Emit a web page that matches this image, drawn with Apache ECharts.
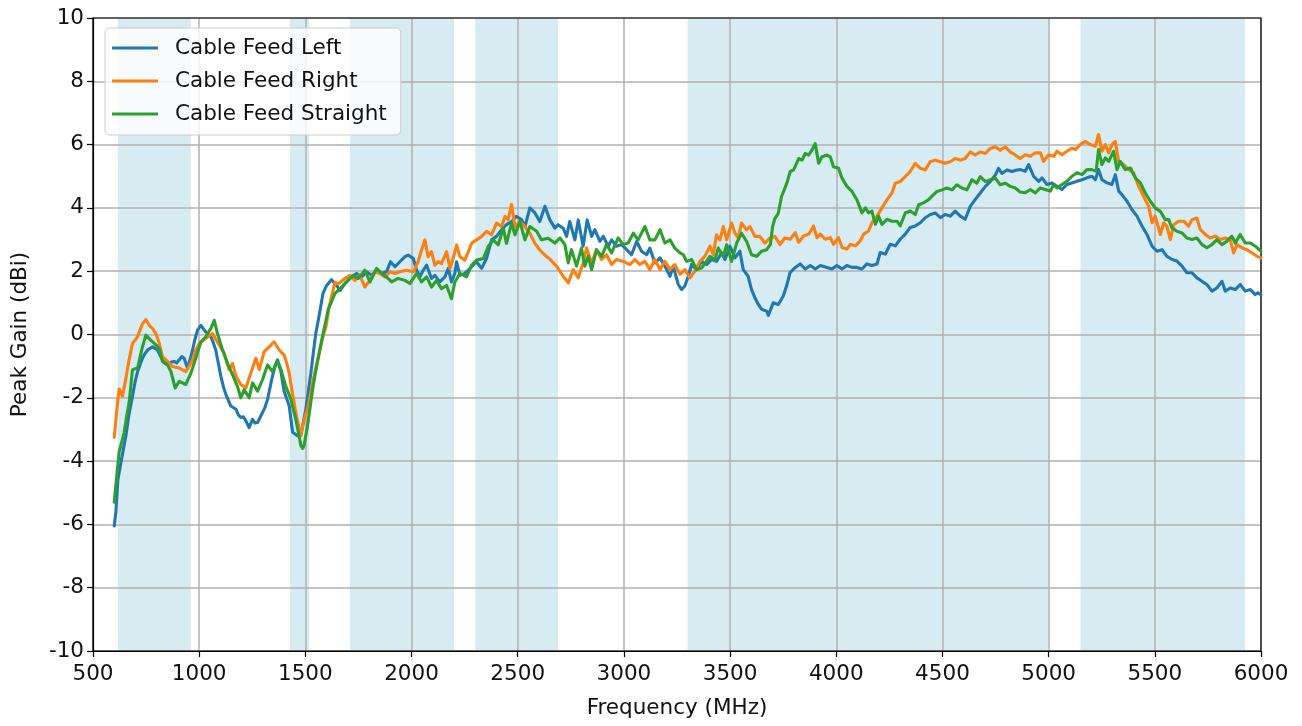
<!DOCTYPE html>
<html><head><meta charset="utf-8">
<script src="https://cdn.jsdelivr.net/npm/echarts@6/dist/echarts.min.js"></script>
<style>html,body{margin:0;padding:0;background:#fff}#c{width:1302px;height:726px}</style>
</head><body><div id="c"></div>
<script>
const seriesNames = ['Cable Feed Left', 'Cable Feed Right', 'Cable Feed Straight'];
const seriesColors = ['#1f77b4', '#ff7f0e', '#2ca02c'];
const xTicks = {min: 500, max: 6000, step: 500};
const yTicks = {min: -10, max: 10, step: 2};
const bandStart = [617, 1427, 1710, 2300, 3300, 5150];
const bandEnd   = [960, 1518, 2200, 2690, 5000, 5925];

// [frequency MHz, peak gain dBi]
const feedLeft = [
[600,-6.05],[608,-5.6],[617,-4.6],[630,-4.1],[641,-3.7],[655,-3.2],[670,-2.5],[686,-1.95],[698,-1.5],[710,-1.17],[722,-0.95],[733,-0.75],[745,-0.6],[757,-0.49],[780,-0.39],[804,-0.49],[815,-0.65],[827,-0.8],[840,-0.9],[851,-0.96],[866,-0.88],[882,-0.85],[894,-0.9],[906,-0.8],[918,-0.7],[929,-0.75],[945,-1.06],[957,-0.8],[969,-0.49],[980,-0.15],[992,0.14],[1008,0.29],[1031,0.08],[1055,-0.07],[1066,-0.25],[1078,-0.49],[1090,-0.9],[1102,-1.32],[1114,-1.65],[1126,-1.9],[1149,-2.26],[1173,-2.36],[1185,-2.55],[1196,-2.62],[1208,-2.6],[1220,-2.73],[1235,-2.94],[1251,-2.68],[1263,-2.8],[1275,-2.78],[1298,-2.47],[1310,-2.3],[1322,-2.05],[1333,-1.7],[1345,-1.32],[1357,-1.0],[1369,-0.8],[1385,-1.17],[1400,-1.79],[1424,-2.26],[1440,-3.09],[1463,-3.2],[1471,-3.25],[1479,-3.15],[1490,-2.8],[1502,-2.36],[1514,-1.8],[1526,-1.22],[1537,-0.6],[1549,0.03],[1565,0.6],[1583,1.3],[1600,1.55],[1623,1.73],[1647,1.55],[1663,1.39],[1686,1.61],[1717,1.82],[1741,1.93],[1765,1.82],[1788,1.98],[1812,1.87],[1835,2.03],[1859,1.93],[1882,1.98],[1901,2.3],[1922,2.14],[1945,2.3],[1969,2.46],[1984,2.51],[2008,2.4],[2024,2.03],[2039,1.82],[2055,2.03],[2071,2.19],[2094,1.77],[2110,1.87],[2133,1.66],[2157,1.82],[2173,2.09],[2188,1.66],[2204,1.93],[2212,2.3],[2228,1.87],[2251,1.93],[2283,2.14],[2306,2.3],[2330,2.09],[2353,2.4],[2377,2.99],[2400,3.1],[2424,3.31],[2447,3.47],[2471,3.57],[2494,3.73],[2518,3.63],[2534,3.41],[2557,4.0],[2581,3.84],[2604,3.57],[2628,4.05],[2651,3.63],[2675,3.36],[2690,3.47],[2714,3.36],[2730,3.1],[2745,3.57],[2769,2.99],[2785,3.62],[2808,2.79],[2827,3.62],[2848,3.1],[2863,3.31],[2887,2.94],[2903,3.1],[2926,2.79],[2942,2.99],[2965,2.79],[2989,2.84],[3013,2.68],[3036,2.52],[3060,2.94],[3083,2.63],[3107,2.52],[3122,2.73],[3146,2.26],[3170,2.42],[3193,2.16],[3217,1.84],[3232,2.16],[3256,1.58],[3272,1.42],[3287,1.53],[3303,1.84],[3319,2.21],[3342,2.05],[3366,2.31],[3389,2.21],[3413,2.37],[3436,2.31],[3460,2.58],[3476,2.37],[3499,2.79],[3523,2.42],[3546,2.63],[3562,2.05],[3585,1.84],[3601,1.42],[3617,1.16],[3633,0.95],[3648,0.8],[3672,0.74],[3680,0.6],[3688,0.64],[3703,1.0],[3727,0.95],[3750,1.21],[3766,1.53],[3782,1.95],[3807,2.12],[3830,2.23],[3854,2.07],[3878,2.18],[3901,2.07],[3925,2.18],[3956,2.12],[3980,2.07],[4003,2.18],[4027,2.07],[4050,2.18],[4074,2.12],[4097,2.12],[4121,2.07],[4144,2.23],[4168,2.18],[4192,2.23],[4207,2.59],[4231,2.54],[4254,2.85],[4278,2.8],[4301,3.01],[4325,3.17],[4348,3.38],[4372,3.43],[4396,3.53],[4419,3.69],[4443,3.79],[4466,3.84],[4490,3.69],[4513,3.79],[4537,3.74],[4560,3.9],[4584,3.74],[4607,3.64],[4631,4.05],[4654,4.26],[4678,4.47],[4702,4.68],[4725,4.83],[4749,5.04],[4764,5.25],[4780,5.09],[4804,5.2],[4827,5.15],[4851,5.2],[4867,5.21],[4890,5.16],[4906,5.37],[4929,5.0],[4953,4.84],[4969,4.95],[4992,4.74],[5016,4.79],[5039,4.68],[5063,4.58],[5086,4.74],[5110,4.79],[5133,4.84],[5157,4.89],[5180,4.95],[5204,5.0],[5220,4.89],[5235,5.21],[5251,4.89],[5275,4.79],[5298,4.74],[5314,5.05],[5330,4.53],[5345,4.42],[5369,4.21],[5392,3.95],[5416,3.74],[5440,3.42],[5463,3.16],[5487,2.79],[5510,2.63],[5534,2.68],[5557,2.47],[5581,2.37],[5604,2.32],[5628,2.16],[5651,1.95],[5675,1.95],[5698,1.79],[5722,1.68],[5745,1.58],[5769,1.37],[5792,1.47],[5816,1.68],[5832,1.37],[5855,1.47],[5879,1.42],[5902,1.58],[5926,1.37],[5950,1.42],[5973,1.26],[5985,1.32],[6000,1.25]
];

const feedRight = [
[600,-3.25],[612,-2.4],[623,-1.72],[639,-1.95],[655,-1.38],[670,-0.8],[686,-0.28],[710,-0.07],[722,0.15],[733,0.34],[749,0.47],[765,0.29],[780,0.19],[796,0.03],[812,-0.28],[827,-0.7],[851,-0.85],[874,-1.01],[906,-1.06],[937,-1.17],[953,-1.0],[969,-0.8],[984,-0.5],[1000,-0.28],[1031,-0.13],[1063,0.03],[1078,-0.15],[1094,-0.33],[1118,-0.59],[1141,-1.11],[1157,-0.91],[1173,-1.32],[1196,-1.58],[1220,-1.69],[1243,-1.22],[1267,-0.75],[1283,-1.11],[1306,-0.54],[1330,-0.39],[1353,-0.23],[1377,-0.49],[1400,-0.65],[1412,-0.9],[1424,-1.22],[1435,-1.7],[1447,-2.16],[1459,-2.6],[1471,-2.99],[1479,-3.2],[1487,-2.89],[1498,-2.6],[1510,-2.36],[1522,-1.95],[1534,-1.53],[1549,-1.05],[1565,-0.59],[1581,-0.1],[1597,0.24],[1610,0.8],[1623,1.2],[1640,1.65],[1655,1.6],[1686,1.77],[1710,1.87],[1733,1.71],[1757,1.87],[1780,1.5],[1804,1.71],[1827,1.98],[1851,1.93],[1874,1.82],[1898,1.98],[1922,1.93],[1945,1.98],[1976,2.03],[2008,1.98],[2031,2.3],[2047,2.67],[2063,2.99],[2078,2.46],[2094,2.62],[2110,2.19],[2126,2.3],[2141,2.24],[2165,2.62],[2181,2.09],[2196,2.4],[2212,2.83],[2228,2.46],[2251,2.35],[2283,2.88],[2306,2.99],[2330,3.1],[2353,3.26],[2377,3.15],[2400,3.52],[2424,3.41],[2440,3.73],[2455,3.63],[2471,4.11],[2487,3.41],[2510,3.57],[2534,3.41],[2557,3.2],[2581,2.88],[2604,2.67],[2628,2.51],[2651,2.38],[2683,2.16],[2714,1.84],[2738,1.63],[2761,2.05],[2785,1.79],[2808,2.26],[2824,2.73],[2848,2.26],[2871,2.68],[2895,2.37],[2918,2.52],[2942,2.21],[2965,2.37],[2997,2.31],[3028,2.21],[3052,2.37],[3075,2.21],[3099,2.31],[3122,2.05],[3146,2.37],[3170,2.05],[3193,2.31],[3217,2.05],[3240,2.21],[3264,1.9],[3287,2.05],[3311,1.79],[3334,2.0],[3358,2.31],[3381,2.47],[3405,2.79],[3421,2.52],[3436,3.15],[3452,2.99],[3468,3.41],[3484,2.99],[3507,3.52],[3523,3.2],[3538,3.05],[3554,3.52],[3578,3.31],[3593,3.41],[3617,3.1],[3640,3.1],[3664,2.89],[3688,3.05],[3711,3.1],[3735,2.84],[3758,3.05],[3783,3.01],[3807,3.22],[3823,2.91],[3846,3.11],[3870,3.17],[3893,3.43],[3909,3.06],[3925,3.17],[3948,3.01],[3972,3.06],[3987,2.85],[4011,3.06],[4027,2.75],[4050,2.7],[4066,2.85],[4090,2.8],[4113,2.96],[4129,3.17],[4152,3.27],[4168,3.53],[4192,3.74],[4215,4.0],[4239,4.26],[4262,4.47],[4278,4.78],[4301,4.83],[4325,4.99],[4348,5.15],[4372,5.41],[4396,5.25],[4419,5.2],[4443,5.46],[4466,5.51],[4490,5.46],[4513,5.41],[4537,5.46],[4560,5.56],[4584,5.51],[4607,5.56],[4631,5.77],[4654,5.67],[4678,5.77],[4702,5.72],[4725,5.88],[4749,5.93],[4772,5.82],[4796,5.93],[4819,5.77],[4843,5.67],[4866,5.56],[4890,5.68],[4914,5.63],[4937,5.74],[4961,5.74],[4976,5.47],[5000,5.68],[5024,5.63],[5039,5.79],[5063,5.68],[5086,5.79],[5110,5.89],[5126,5.84],[5149,6.0],[5173,6.1],[5196,6.0],[5220,5.95],[5235,6.32],[5251,5.79],[5267,6.0],[5283,5.74],[5298,6.0],[5314,6.1],[5330,5.47],[5353,5.37],[5377,5.21],[5400,5.11],[5424,4.68],[5447,4.37],[5471,4.05],[5487,3.53],[5502,3.74],[5526,3.16],[5542,3.53],[5557,3.42],[5573,3.0],[5589,3.47],[5612,3.58],[5636,3.58],[5659,3.42],[5675,3.63],[5698,3.68],[5714,3.32],[5738,3.16],[5761,3.05],[5785,3.11],[5808,3.0],[5832,3.05],[5855,3.0],[5871,2.58],[5887,2.84],[5910,2.74],[5934,2.68],[5957,2.58],[5981,2.47],[6000,2.42]
];

const feedStraight = [
[600,-5.3],[610,-4.6],[623,-3.72],[647,-3.09],[658,-2.6],[670,-2.16],[686,-1.11],[710,-1.06],[722,-0.7],[733,-0.39],[749,-0.02],[772,-0.18],[796,-0.33],[812,-0.44],[827,-0.85],[851,-0.96],[867,-1.17],[887,-1.69],[906,-1.48],[937,-1.58],[961,-1.22],[984,-0.75],[1008,-0.23],[1031,-0.07],[1055,0.19],[1071,0.45],[1086,0.03],[1110,-0.49],[1133,-0.91],[1157,-1.27],[1180,-1.64],[1196,-2.0],[1212,-1.74],[1235,-2.0],[1251,-1.53],[1275,-1.79],[1298,-1.43],[1322,-0.96],[1345,-1.17],[1369,-0.85],[1385,-1.11],[1408,-1.64],[1432,-2.05],[1455,-2.68],[1479,-3.51],[1487,-3.6],[1494,-3.51],[1510,-2.89],[1534,-1.74],[1549,-1.15],[1565,-0.59],[1581,-0.05],[1597,0.45],[1608,0.8],[1624,1.05],[1639,1.29],[1663,1.45],[1694,1.66],[1725,1.87],[1749,1.77],[1780,2.03],[1804,1.66],[1835,2.09],[1859,1.93],[1882,1.82],[1906,1.66],[1937,1.77],[1969,1.71],[1992,1.61],[2024,1.93],[2047,1.66],[2071,1.82],[2094,1.5],[2118,1.71],[2141,1.45],[2165,1.55],[2188,1.13],[2204,1.66],[2228,1.93],[2259,1.82],[2283,2.19],[2306,2.35],[2338,2.4],[2361,2.78],[2385,2.99],[2408,2.83],[2432,3.36],[2447,2.88],[2471,3.52],[2487,3.15],[2510,3.57],[2534,2.99],[2557,3.41],[2589,3.26],[2612,2.99],[2643,3.04],[2675,2.89],[2699,3.05],[2722,2.84],[2738,2.26],[2753,2.68],[2777,2.16],[2800,2.73],[2816,2.16],[2832,2.47],[2848,2.05],[2871,2.68],[2895,2.47],[2918,2.84],[2942,2.58],[2973,3.05],[2997,2.84],[3020,2.89],[3044,3.2],[3067,2.99],[3099,3.41],[3122,2.99],[3146,2.99],[3170,3.31],[3193,2.89],[3217,2.99],[3240,2.73],[3264,2.58],[3280,2.52],[3295,2.31],[3319,2.37],[3342,2.05],[3366,2.1],[3389,2.31],[3405,2.47],[3429,2.37],[3444,2.73],[3468,2.47],[3484,2.84],[3507,2.31],[3531,2.89],[3554,3.2],[3578,2.94],[3601,2.52],[3625,2.47],[3648,2.63],[3672,2.68],[3690,2.85],[3700,3.4],[3710,3.65],[3727,3.83],[3742,4.36],[3752,4.52],[3768,4.8],[3783,5.15],[3799,5.2],[3823,5.56],[3839,5.51],[3854,5.72],[3870,5.67],[3885,5.82],[3901,6.03],[3917,5.41],[3932,5.61],[3956,5.67],[3972,5.61],[3987,5.3],[4011,5.25],[4027,4.94],[4050,4.68],[4074,4.52],[4097,4.26],[4121,3.84],[4137,4.0],[4152,3.84],[4168,3.9],[4184,3.48],[4199,3.74],[4215,3.48],[4239,3.64],[4262,3.58],[4286,3.58],[4301,3.43],[4325,3.84],[4348,3.9],[4372,3.79],[4388,4.1],[4411,4.16],[4435,4.26],[4458,4.42],[4474,4.52],[4498,4.57],[4521,4.63],[4545,4.57],[4568,4.73],[4592,4.63],[4615,4.57],[4639,4.89],[4662,4.78],[4678,4.99],[4702,4.83],[4725,4.89],[4749,4.94],[4772,4.73],[4796,4.78],[4819,4.68],[4843,4.63],[4866,4.5],[4890,4.48],[4914,4.58],[4937,4.47],[4961,4.63],[4984,4.58],[5008,4.53],[5024,4.74],[5039,4.63],[5063,4.74],[5086,4.84],[5110,5.0],[5133,5.11],[5157,5.05],[5180,5.21],[5204,5.21],[5224,5.16],[5235,5.84],[5251,5.37],[5267,5.58],[5283,5.47],[5306,5.79],[5322,5.21],[5337,5.47],[5361,5.21],[5385,5.26],[5408,4.95],[5432,4.79],[5455,4.47],[5479,4.21],[5502,4.0],[5526,3.89],[5549,3.63],[5565,3.63],[5581,3.37],[5604,3.26],[5628,3.21],[5651,3.05],[5675,3.0],[5698,3.05],[5722,2.84],[5745,2.74],[5769,2.84],[5792,3.0],[5816,2.84],[5840,2.95],[5863,3.11],[5879,2.89],[5902,3.16],[5926,2.89],[5950,2.89],[5973,2.79],[6000,2.63]
];

const FONT = "'DejaVu Sans', sans-serif";
const FS = 21.5;
const chart = echarts.init(document.getElementById('c'), null, {renderer: 'canvas'});

const lineSeries = [feedLeft, feedRight, feedStraight].map((d, i) => ({
  name: seriesNames[i],
  type: 'line',
  data: d,
  symbol: 'none',
  showSymbol: false,
  z: 5,
  lineStyle: {color: seriesColors[i], width: 3.1, join: 'round', cap: 'round'},
  itemStyle: {color: seriesColors[i]},
  emphasis: {disabled: true},
  animation: false
}));

const bandSeries = {
  type: 'custom',
  name: 'bands',
  z: 1,
  silent: true,
  data: bandStart.map((s, i) => [s, bandEnd[i]]),
  encode: {x: [0, 1]},
  renderItem: function (params, api) {
    const p1 = api.coord([api.value(0), yTicks.max]);
    const p2 = api.coord([api.value(1), yTicks.min]);
    return {
      type: 'rect',
      shape: {x: p1[0], y: p1[1], width: p2[0] - p1[0], height: p2[1] - p1[1]},
      style: {fill: 'rgba(173,216,230,0.5)'}
    };
  }
};

const axisCommon = {
  z: 3,
  axisLine: {show: true, onZero: false, lineStyle: {color: '#000', width: 1.2}},
  axisTick: {show: true, inside: false, length: 6, lineStyle: {color: '#000', width: 1.2}},
  splitLine: {show: true, lineStyle: {color: '#b0b0b0', width: 1.5}},
  nameLocation: 'middle',
  nameTextStyle: {fontSize: FS, color: '#111', fontFamily: FONT}
};

chart.setOption({
  animation: false,
  backgroundColor: '#fff',
  grid: {left: 93, right: 41, top: 18, bottom: 75, show: true, z: 4,
         borderColor: '#000', borderWidth: 1.2, backgroundColor: 'transparent'},
  legend: {
    data: seriesNames.map((n, i) => ({name: n, icon: 'rect', itemStyle: {color: seriesColors[i]}})),
    orient: 'vertical',
    left: 105, top: 28,
    padding: [9, 14, 10, 7],
    itemWidth: 46, itemHeight: 3, itemGap: 11,
    textStyle: {fontSize: FS, color: '#111', fontFamily: FONT, lineHeight: 22, padding: [0, 0, 0, 12]},
    backgroundColor: 'rgba(255,255,255,0.8)',
    borderColor: '#cccccc', borderWidth: 1, borderRadius: 5,
    selectedMode: false
  },
  xAxis: Object.assign({}, axisCommon, {
    type: 'value', min: xTicks.min, max: xTicks.max, interval: xTicks.step,
    name: 'Frequency (MHz)', nameGap: 46,
    axisLabel: {fontSize: FS, color: '#111', fontFamily: FONT, margin: 12,
                formatter: v => String(v)}
  }),
  yAxis: Object.assign({}, axisCommon, {
    type: 'value', min: yTicks.min, max: yTicks.max, interval: yTicks.step,
    name: 'Peak Gain (dBi)', nameGap: 62,
    axisLabel: {fontSize: FS, color: '#111', fontFamily: FONT, margin: 9,
                formatter: v => String(v)}
  }),
  series: [bandSeries].concat(lineSeries)
});
</script></body></html>
